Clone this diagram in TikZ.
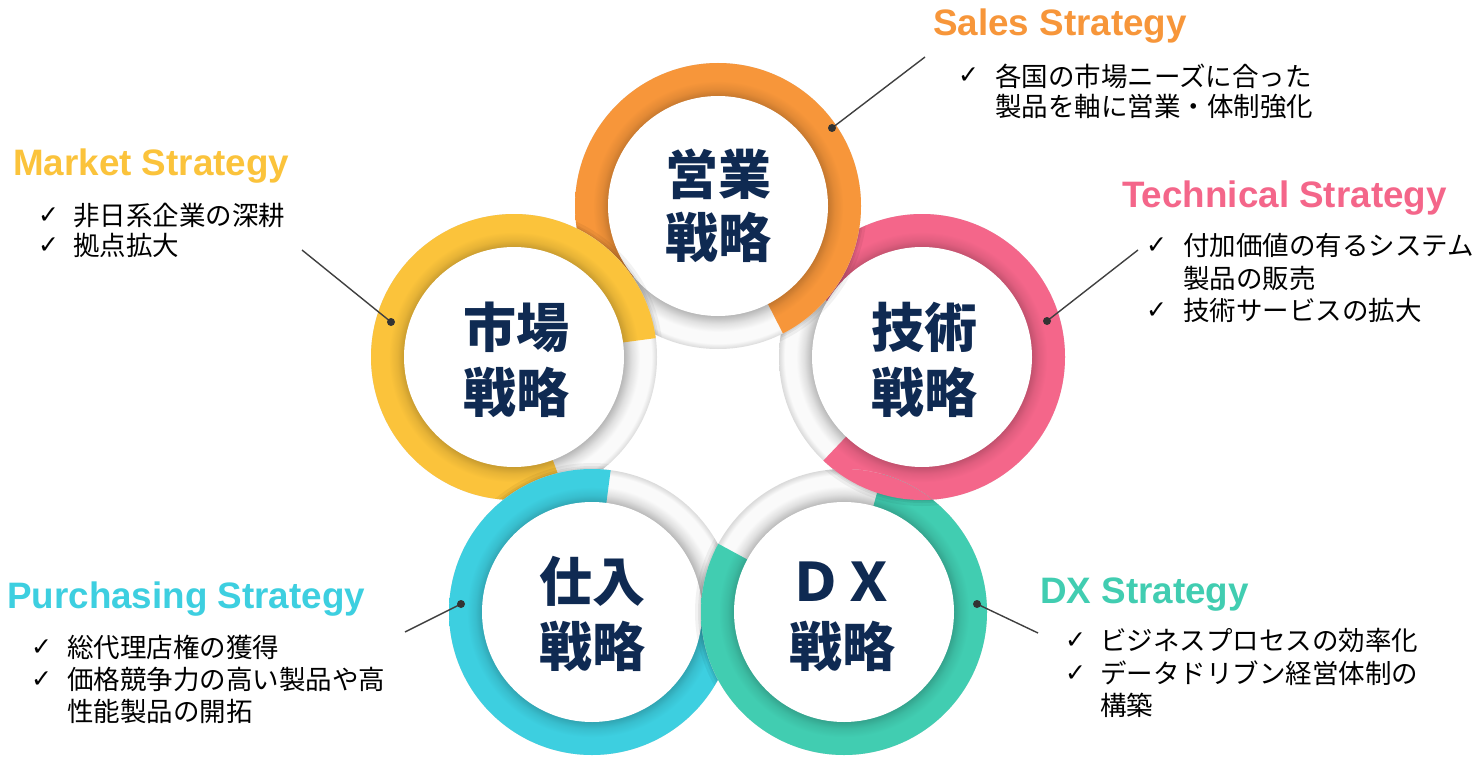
\documentclass[tikz,border=0pt]{standalone}
\usepackage{fontspec}
\setmainfont{Liberation Sans}
\newfontfamily\jp{Noto Sans CJK JP}
\newfontfamily\dv{DejaVu Sans}
\definecolor{cOr}{HTML}{F7963A}
\definecolor{cYe}{HTML}{FBC33B}
\definecolor{cPk}{HTML}{F4668A}
\definecolor{cCy}{HTML}{3DCFE0}
\definecolor{cTl}{HTML}{41CDB1}
\definecolor{navy}{HTML}{0F2A52}
\definecolor{linec}{HTML}{404040}
\definecolor{wA}{HTML}{B8B8B8}
\definecolor{wB}{HTML}{E0E0E0}
\definecolor{wC}{HTML}{FAFAFA}
\definecolor{wD}{HTML}{DADADA}
\newcommand\mkringshade[1]{%
  \colorlet{#1D}{#1!80!black}%
  \colorlet{#1M}{#1!92!black}%
  \pgfdeclareradialshading{sh#1}{\pgfpoint{0bp}{0bp}}{color(0bp)=(#1D); color(19.23bp)=(#1D); color(20.4bp)=(#1M); color(21.9bp)=(#1); color(25bp)=(#1); color(50bp)=(#1)}}
\mkringshade{cOr}\mkringshade{cYe}\mkringshade{cPk}\mkringshade{cCy}\mkringshade{cTl}
\pgfdeclareradialshading{shwhite}{\pgfpoint{0bp}{0bp}}{color(0bp)=(wA); color(19.23bp)=(wA); color(20.6bp)=(wB); color(22bp)=(wC); color(24bp)=(wC); color(25bp)=(wD); color(50bp)=(wD)}
\newcommand\drawring[3]{%
  \shade[shading=shwhite] (#1) circle[radius=143];
  \begin{scope}
    \clip (#1) -- ++(#2+50:400) arc[start angle=#2+50, end angle=#2+333, radius=400] -- cycle;
    \shade[shading=sh#3] (#1) circle[radius=143];
  \end{scope}
  \fill[white] (#1) circle[radius=110];
}
% soft shadow of ring #1 cast on ring #2
\newcommand\ringshadow[2]{%
  \begin{scope}
    \clip (#2) circle[radius=143];
    \draw[black, opacity=0.05, line width=12pt] (#1) circle[radius=143];
    \draw[black, opacity=0.06, line width=6pt] (#1) circle[radius=143];
    \draw[black, opacity=0.06, line width=2.5pt] (#1) circle[radius=143];
  \end{scope}
}
\tikzset{
  title/.style={font=\fontsize{36.8}{37}\selectfont\bfseries, anchor=base west, inner sep=0pt},
  body/.style={font=\jp\fontsize{26.5}{26.5}\selectfont, anchor=base west, inner sep=0pt, text=black},
  chk/.style={font=\dv\fontsize{25}{25}\selectfont, anchor=base west, inner sep=0pt, text=black},
  big/.style={font=\jp\bfseries\fontsize{53}{53}\selectfont, anchor=base, inner sep=0pt, text=navy},
  conn/.style={draw=linec, line width=1.4pt},
  dot/.style={fill=black!80}
}
\begin{document}
\begin{tikzpicture}[x=1pt,y=-1pt]
\fill[white] (0,0) rectangle (1476,760);
\useasboundingbox (0,0) rectangle (1476,760);
% ring centres
\coordinate (Or) at (718,206);
\coordinate (Ye) at (514,357);
\coordinate (Pk) at (922,357);
\coordinate (Cy) at (592,612);
\coordinate (Tl) at (844,612);
% rings, each over its clockwise neighbour
\drawring{Pk}{160.6}{cPk}
\ringshadow{Or}{Pk}
\drawring{Or}{90}{cOr}
\ringshadow{Ye}{Or}
\drawring{Ye}{19.4}{cYe}
\ringshadow{Cy}{Ye}
\drawring{Cy}{-55.5}{cCy}
\ringshadow{Tl}{Cy}
\drawring{Tl}{235.5}{cTl}
% pink over teal
\ringshadow{Pk}{Tl}
\begin{scope}
  \clip (Tl) circle[radius=143];
  \clip (Pk) -- ++(210.6:400) arc[start angle=210.6, end angle=493.6, radius=400] -- cycle;
  \shade[shading=shcPk] (Pk) circle[radius=143];
\end{scope}
% centre labels
\node[big] (lOr1) at (718,194) {営業};
\node[big] (lOr2) at (718,257) {戦略};
\node[big] (lYe1) at (516,347) {市場};
\node[big] (lYe2) at (516,412) {戦略};
\node[big] (lPk1) at (924,347) {技術};
\node[big] (lPk2) at (924,412) {戦略};
\node[big] (lCy1) at (592,601) {仕入};
\node[big] (lCy2) at (592,666) {戦略};
\node[big] (lTl1) at (842,601) {ＤＸ};
\node[big] (lTl2) at (842,666) {戦略};
% connectors
\coordinate (dS) at (832,128); \coordinate (eS) at (925,57);
\coordinate (dM) at (391,322); \coordinate (eM) at (302,250);
\coordinate (dT) at (1047,321); \coordinate (eT) at (1138,250);
\coordinate (dP) at (461,604); \coordinate (eP) at (405,632);
\coordinate (dD) at (977,604); \coordinate (eD) at (1038,633);
\draw[conn] (dS) -- (eS);
\draw[conn] (dM) -- (eM);
\draw[conn] (dT) -- (eT);
\draw[conn] (dP) -- (eP);
\draw[conn] (dD) -- (eD);
\fill[dot] (dS) circle[radius=4];
\fill[dot] (dM) circle[radius=4];
\fill[dot] (dT) circle[radius=4];
\fill[dot] (dP) circle[radius=4];
\fill[dot] (dD) circle[radius=4];
% Sales
\node[title, text=cOr] (tS) at (933,36) {Sales Strategy};
\node[chk] (cS1) at (958,84) {✓};
\node[body] (bS1) at (995,86) {各国の市場ニーズに合った};
\node[body] (bS2) at (995,117) {製品を軸に営業・体制強化};
% Market
\node[title, text=cYe] (tM) at (13,175) {Market Strategy};
\node[chk] (cM1) at (38,223) {✓};
\node[body] (bM1) at (73,225) {非日系企業の深耕};
\node[chk] (cM2) at (38,253) {✓};
\node[body] (bM2) at (73,255) {拠点拡大};
% Technical
\node[title, text=cPk] (tT) at (1122,207) {Technical Strategy};
\node[chk] (cT1) at (1146,253) {✓};
\node[body] (bT1) at (1183,255) {付加価値の有るシステム};
\node[body] (bT2) at (1183,288) {製品の販売};
\node[chk] (cT3) at (1146,318) {✓};
\node[body] (bT3) at (1183,320) {技術サービスの拡大};
% Purchasing
\node[title, text=cCy] (tP) at (7,608) {Purchasing Strategy};
\node[chk] (cP1) at (31,655) {✓};
\node[body] (bP1) at (67,657) {総代理店権の獲得};
\node[chk] (cP2) at (31,687) {✓};
\node[body] (bP2) at (67,689) {価格競争力の高い製品や高};
\node[body] (bP3) at (67,721) {性能製品の開拓};
% DX
\node[title, text=cTl] (tD) at (1040,603) {DX Strategy};
\node[chk] (cD1) at (1065,648) {✓};
\node[body] (bD1) at (1100,650) {ビジネスプロセスの効率化};
\node[chk] (cD2) at (1065,681) {✓};
\node[body] (bD2) at (1100,683) {データドリブン経営体制の};
\node[body] (bD3) at (1100,715) {構築};
\end{tikzpicture}
\end{document}
